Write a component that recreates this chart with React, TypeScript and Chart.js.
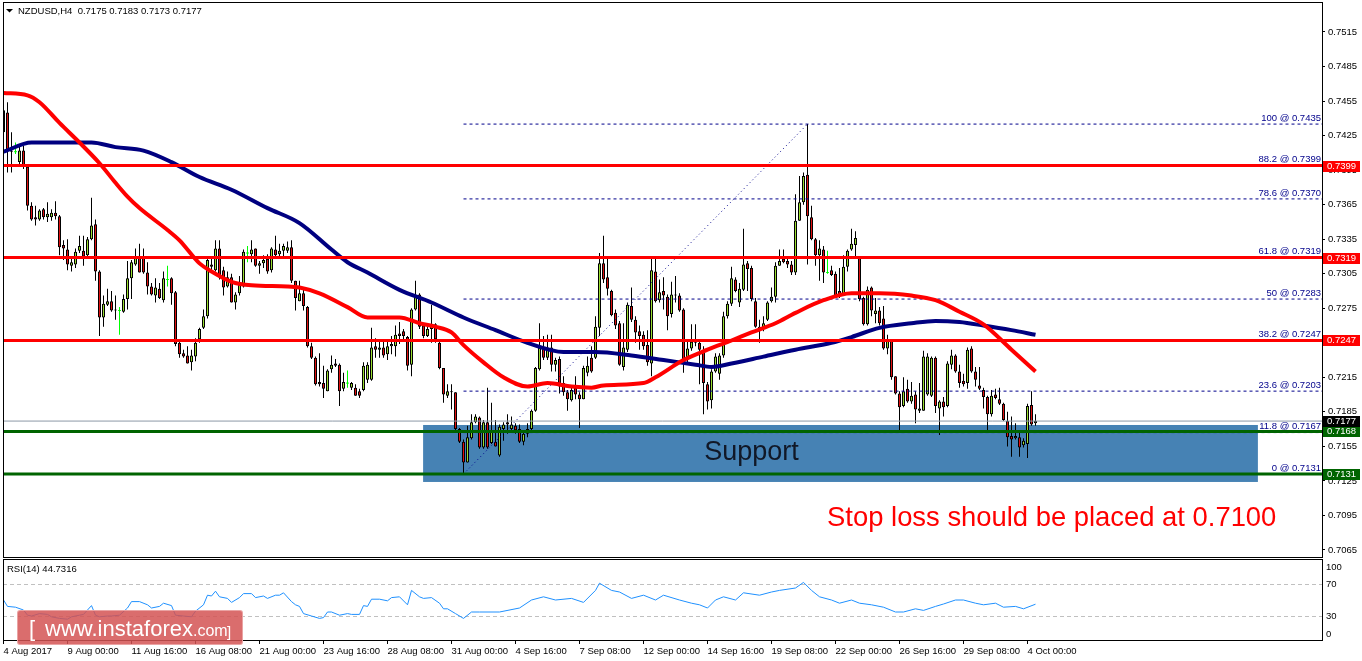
import React, { useEffect, useRef } from "react";
import { Chart, registerables } from "chart.js";

Chart.register(...registerables);

const FONT = "'Liberation Sans', Arial, sans-serif";

// ---- H4 candles, NZDUSD (index 0 = 4 Aug 2017) ----
const opens = [
  0.7428,0.7445,0.7412,0.7411,0.7402,0.7412,0.7398,0.7364,0.7354,0.7352,
  0.7361,0.7354,0.7354,0.7358,0.7355,0.7330,0.7326,0.7312,0.7313,0.7325,
  0.7325,0.7321,0.7335,0.7348,0.7307,0.7267,0.7278,0.7281,0.7273,0.7273,
  0.7272,0.7283,0.7301,0.7313,0.7319,0.7319,0.7306,0.7294,0.7286,0.7292,
  0.7282,0.7300,0.7301,0.7289,0.7245,0.7236,0.7234,0.7228,0.7233,0.7248,
  0.7258,0.7268,0.7313,0.7308,0.7327,0.7308,0.7294,0.7302,0.7280,0.7288,
  0.7294,0.7323,0.7322,0.7327,0.7312,0.7314,0.7318,0.7308,0.7326,0.7322,
  0.7325,0.7325,0.7328,0.7299,0.7281,0.7288,0.7276,0.7242,0.7232,0.7211,
  0.7210,0.7203,0.7222,0.7227,0.7226,0.7205,0.7210,0.7206,0.7206,0.7203,
  0.7204,0.7213,0.7213,0.7242,0.7239,0.7241,0.7235,0.7242,0.7242,0.7253,
  0.7255,0.7250,0.7226,0.7274,0.7287,0.7260,0.7251,0.7257,0.7261,0.7245,
  0.7223,0.7199,0.7203,0.7202,0.7170,0.7159,0.7141,0.7162,0.7176,0.7180,
  0.7154,0.7176,0.7158,0.7159,0.7147,0.7170,0.7176,0.7170,0.7173,0.7170,
  0.7159,0.7166,0.7170,0.7186,0.7222,0.7240,0.7232,0.7241,0.7226,0.7231,
  0.7210,0.7202,0.7195,0.7206,0.7200,0.7196,0.7219,0.7232,0.7232,0.7258,
  0.7314,0.7302,0.7290,0.7271,0.7262,0.7224,0.7239,0.7277,0.7265,0.7255,
  0.7252,0.7243,0.7227,0.7307,0.7282,0.7290,0.7285,0.7270,0.7287,0.7286,
  0.7274,0.7232,0.7240,0.7245,0.7245,0.7239,0.7209,0.7195,0.7220,0.7218,
  0.7234,0.7268,0.7279,0.7300,0.7280,0.7291,0.7314,0.7310,0.7281,0.7255,
  0.7258,0.7265,0.7281,0.7285,0.7312,0.7318,0.7316,0.7313,0.7306,0.7351,
  0.7367,0.7391,0.7354,0.7335,0.7321,0.7326,0.7306,0.7308,0.7305,0.7290,
  0.7286,0.7311,0.7326,0.7330,0.7320,0.7284,0.7261,0.7293,0.7270,0.7273,
  0.7266,0.7240,0.7247,0.7216,0.7201,0.7190,0.7205,0.7194,0.7200,0.7186,
  0.7186,0.7200,0.7199,0.7232,0.7188,0.7194,0.7190,0.7226,0.7234,0.7220,
  0.7212,0.7210,0.7240,0.7220,0.7208,0.7204,0.7198,0.7183,0.7200,0.7196,
  0.7192,0.7177,0.7164,0.7162,0.7163,0.7156,0.7157,0.7191,0.7175,
];
const highs = [
  0.7449,0.7454,0.7428,0.7419,0.7415,0.7416,0.7398,0.7367,0.7364,0.7361,
  0.7362,0.7367,0.7361,0.7368,0.7356,0.7334,0.7335,0.7319,0.7327,0.7338,
  0.7338,0.7337,0.7371,0.7352,0.7308,0.7286,0.7292,0.7290,0.7286,0.7276,
  0.7287,0.7316,0.7317,0.7327,0.7331,0.7327,0.7315,0.7297,0.7301,0.7297,
  0.7307,0.7312,0.7302,0.7290,0.7248,0.7239,0.7242,0.7239,0.7249,0.7258,
  0.7274,0.7319,0.7319,0.7334,0.7334,0.7311,0.7307,0.7305,0.7289,0.7303,
  0.7326,0.7329,0.7334,0.7327,0.7316,0.7321,0.7322,0.7328,0.7338,0.7331,
  0.7331,0.7333,0.7334,0.7299,0.7299,0.7291,0.7277,0.7245,0.7233,0.7236,
  0.7225,0.7222,0.7234,0.7231,0.7227,0.7219,0.7221,0.7211,0.7209,0.7205,
  0.7228,0.7228,0.7258,0.7249,0.7248,0.7246,0.7246,0.7251,0.7260,0.7263,
  0.7257,0.7251,0.7275,0.7299,0.7288,0.7262,0.7261,0.7278,0.7262,0.7246,
  0.7223,0.7209,0.7209,0.7202,0.7171,0.7161,0.7173,0.7183,0.7183,0.7181,
  0.7178,0.7206,0.7193,0.7178,0.7174,0.7176,0.7183,0.7181,0.7175,0.7174,
  0.7168,0.7175,0.7187,0.7224,0.7262,0.7251,0.7252,0.7252,0.7232,0.7233,
  0.7216,0.7204,0.7207,0.7216,0.7202,0.7225,0.7233,0.7242,0.7268,0.7323,
  0.7338,0.7318,0.7291,0.7274,0.7264,0.7262,0.7280,0.7293,0.7268,0.7260,
  0.7255,0.7256,0.7318,0.7318,0.7300,0.7302,0.7287,0.7298,0.7303,0.7288,
  0.7275,0.7247,0.7261,0.7261,0.7248,0.7242,0.7211,0.7222,0.7236,0.7236,
  0.7272,0.7281,0.7311,0.7302,0.7297,0.7344,0.7316,0.7312,0.7284,0.7265,
  0.7268,0.7281,0.7293,0.7315,0.7326,0.7326,0.7318,0.7316,0.7374,0.7390,
  0.7393,0.7435,0.7364,0.7336,0.7334,0.7329,0.7325,0.7312,0.7307,0.7310,
  0.7321,0.7326,0.7344,0.7342,0.7320,0.7285,0.7294,0.7294,0.7284,0.7276,
  0.7277,0.7252,0.7248,0.7216,0.7203,0.7215,0.7213,0.7211,0.7203,0.7210,
  0.7238,0.7236,0.7233,0.7233,0.7195,0.7198,0.7229,0.7239,0.7235,0.7226,
  0.7218,0.7241,0.7242,0.7224,0.7224,0.7206,0.7199,0.7204,0.7205,0.7206,
  0.7193,0.7185,0.7181,0.7175,0.7168,0.7162,0.7192,0.7203,0.7183,
];
const lows = [
  0.7420,0.7393,0.7393,0.7409,0.7400,0.7396,0.7360,0.7351,0.7347,0.7351,
  0.7352,0.7350,0.7351,0.7352,0.7321,0.7317,0.7308,0.7307,0.7310,0.7323,
  0.7312,0.7319,0.7334,0.7299,0.7251,0.7259,0.7277,0.7272,0.7265,0.7252,
  0.7271,0.7274,0.7283,0.7312,0.7306,0.7305,0.7287,0.7286,0.7280,0.7283,
  0.7280,0.7294,0.7278,0.7242,0.7232,0.7232,0.7227,0.7221,0.7229,0.7245,
  0.7257,0.7266,0.7307,0.7307,0.7300,0.7286,0.7293,0.7280,0.7274,0.7286,
  0.7293,0.7315,0.7315,0.7311,0.7305,0.7310,0.7305,0.7306,0.7318,0.7319,
  0.7318,0.7323,0.7297,0.7273,0.7281,0.7273,0.7241,0.7231,0.7208,0.7207,
  0.7197,0.7203,0.7219,0.7224,0.7190,0.7203,0.7206,0.7204,0.7199,0.7197,
  0.7203,0.7210,0.7212,0.7232,0.7232,0.7232,0.7230,0.7235,0.7233,0.7244,
  0.7248,0.7221,0.7216,0.7273,0.7257,0.7249,0.7250,0.7245,0.7245,0.7222,
  0.7193,0.7197,0.7187,0.7168,0.7158,0.7131,0.7141,0.7161,0.7175,0.7153,
  0.7153,0.7153,0.7157,0.7155,0.7146,0.7160,0.7166,0.7168,0.7166,0.7158,
  0.7156,0.7163,0.7168,0.7185,0.7221,0.7230,0.7230,0.7220,0.7220,0.7201,
  0.7199,0.7186,0.7194,0.7196,0.7171,0.7196,0.7216,0.7219,0.7231,0.7251,
  0.7297,0.7286,0.7268,0.7257,0.7225,0.7221,0.7237,0.7263,0.7245,0.7239,
  0.7239,0.7225,0.7216,0.7280,0.7280,0.7274,0.7256,0.7267,0.7280,0.7272,
  0.7219,0.7228,0.7238,0.7242,0.7209,0.7183,0.7187,0.7188,0.7219,0.7213,
  0.7232,0.7266,0.7277,0.7289,0.7276,0.7290,0.7290,0.7281,0.7258,0.7245,
  0.7255,0.7264,0.7280,0.7280,0.7312,0.7314,0.7310,0.7304,0.7304,0.7351,
  0.7365,0.7313,0.7334,0.7312,0.7299,0.7297,0.7305,0.7303,0.7284,0.7284,
  0.7286,0.7307,0.7325,0.7320,0.7281,0.7260,0.7260,0.7268,0.7262,0.7260,
  0.7239,0.7235,0.7213,0.7200,0.7168,0.7189,0.7193,0.7192,0.7175,0.7184,
  0.7186,0.7199,0.7198,0.7184,0.7165,0.7181,0.7189,0.7222,0.7219,0.7206,
  0.7207,0.7205,0.7219,0.7207,0.7204,0.7188,0.7168,0.7181,0.7196,0.7191,
  0.7177,0.7155,0.7146,0.7161,0.7146,0.7154,0.7145,0.7173,0.7173,
];
const closes = [
  0.7447,0.7412,0.7411,0.7411,0.7412,0.7398,0.7364,0.7352,0.7352,0.7360,
  0.7354,0.7357,0.7358,0.7355,0.7328,0.7327,0.7313,0.7315,0.7324,0.7329,
  0.7320,0.7335,0.7347,0.7307,0.7267,0.7279,0.7281,0.7273,0.7274,0.7273,
  0.7283,0.7301,0.7315,0.7320,0.7306,0.7306,0.7294,0.7287,0.7293,0.7284,
  0.7301,0.7300,0.7288,0.7244,0.7235,0.7233,0.7227,0.7234,0.7245,0.7257,
  0.7268,0.7317,0.7311,0.7327,0.7302,0.7293,0.7302,0.7280,0.7287,0.7296,
  0.7324,0.7323,0.7326,0.7312,0.7314,0.7317,0.7307,0.7327,0.7321,0.7325,
  0.7329,0.7328,0.7299,0.7284,0.7288,0.7277,0.7242,0.7232,0.7209,0.7209,
  0.7205,0.7221,0.7226,0.7225,0.7203,0.7211,0.7210,0.7210,0.7199,0.7199,
  0.7225,0.7226,0.7241,0.7239,0.7241,0.7234,0.7242,0.7244,0.7252,0.7251,
  0.7251,0.7225,0.7274,0.7286,0.7259,0.7251,0.7257,0.7260,0.7248,0.7223,
  0.7200,0.7203,0.7202,0.7170,0.7159,0.7141,0.7163,0.7176,0.7181,0.7154,
  0.7176,0.7154,0.7168,0.7155,0.7172,0.7174,0.7174,0.7174,0.7169,0.7159,
  0.7166,0.7170,0.7186,0.7223,0.7241,0.7232,0.7241,0.7226,0.7230,0.7207,
  0.7202,0.7196,0.7204,0.7200,0.7196,0.7223,0.7225,0.7220,0.7259,0.7314,
  0.7300,0.7292,0.7269,0.7260,0.7226,0.7241,0.7278,0.7265,0.7254,0.7251,
  0.7242,0.7228,0.7308,0.7281,0.7289,0.7286,0.7268,0.7287,0.7286,0.7273,
  0.7228,0.7240,0.7246,0.7248,0.7239,0.7210,0.7194,0.7220,0.7233,0.7234,
  0.7268,0.7279,0.7301,0.7290,0.7292,0.7313,0.7309,0.7283,0.7259,0.7259,
  0.7262,0.7280,0.7285,0.7312,0.7316,0.7315,0.7313,0.7306,0.7351,0.7367,
  0.7390,0.7355,0.7335,0.7321,0.7327,0.7306,0.7306,0.7304,0.7286,0.7286,
  0.7311,0.7325,0.7331,0.7336,0.7283,0.7261,0.7291,0.7273,0.7273,0.7262,
  0.7240,0.7248,0.7215,0.7201,0.7189,0.7203,0.7194,0.7199,0.7187,0.7188,
  0.7233,0.7233,0.7232,0.7190,0.7194,0.7189,0.7227,0.7234,0.7220,0.7210,
  0.7209,0.7239,0.7220,0.7213,0.7205,0.7198,0.7183,0.7199,0.7197,0.7192,
  0.7178,0.7163,0.7161,0.7164,0.7154,0.7160,0.7190,0.7174,0.7177,
];

// ---- moving averages (sampled along the curve) ----
const maRedIdx = [0,6,9,14,19,24,28,31,34,41,44,49,52,57,62,71,74,79,86,91,99,104,108,112,115,120,125,131,136,142,147,150,160,163,170,176,182,187,193,198,205,212,219,227,233,239,245,252,258];
const maRedVal = [0.7462,0.7460,0.7454,0.7436,0.7419,0.7401,0.7384,0.7372,0.7362,0.7343,0.7334,0.7314,0.7307,0.7298,0.7295,0.7294,0.7293,0.7288,0.7276,0.7267,0.7267,0.7262,0.7259,0.7254,0.7243,0.7228,0.7215,0.7207,0.7210,0.7207,0.7206,0.7208,0.7210,0.7215,0.7230,0.7239,0.7247,0.7254,0.7262,0.7271,0.7282,0.7288,0.7288,0.7286,0.7282,0.7272,0.7261,0.7239,0.7220];
const maBlueIdx = [0,7,16,22,28,35,42,49,57,66,74,82,86,91,99,107,115,123,131,140,148,157,165,173,177,182,190,198,207,212,219,227,233,239,245,252,258];
const maBlueVal = [0.7411,0.7419,0.7419,0.7419,0.7415,0.7412,0.7402,0.7389,0.7378,0.7362,0.7349,0.7326,0.7315,0.7306,0.7291,0.7280,0.7267,0.7256,0.7245,0.7237,0.7237,0.7234,0.7230,0.7226,0.7224,0.7227,0.7233,0.7239,0.7245,0.7250,0.7258,0.7262,0.7264,0.7263,0.7260,0.7256,0.7252];

// ---- RSI(14) ----
const rsiIdx = [0,1,3,5,6,7,9,11,12,14,16,17,19,20,22,23,24,26,27,29,31,32,34,36,37,39,40,42,43,45,47,48,50,51,52,53,54,56,57,59,60,62,63,65,66,68,69,70,72,73,74,75,77,79,80,81,82,84,86,87,89,90,91,92,94,96,97,99,101,102,104,105,107,109,110,111,113,115,117,119,124,129,132,135,138,142,145,148,149,152,154,157,160,163,165,169,172,174,176,178,180,183,185,189,192,194,198,200,202,204,207,209,212,214,217,220,223,225,228,230,233,235,238,240,243,245,248,250,253,255,258];
const rsiVal = [50,42,41,37.5,31,30,33,32,29,27,26,29,31,32,43,31,29,30,30,31,40,48,48,44,40,42,46,43,31,30,29,36,44,56,55,61,54,52,47,53,58,58,53,55,52,56,56,59,48,44,42,33,30,27,28,35,35,31,33,32,32,43,42,51,51,49,53,54,44,62,54,52,53,46,39,39,33,27,35,35,35,40,50,54,50,52,47,62,71,62,60,52,56,50,56,50,46,44,40,50,54,50,59,56,60,62,65,72,62,54,50,46,50,46,44,41,35,35,39,37,42,45,50,50,46,44,46,41,42,39,44.7316];
const rsiLevels = [70, 30];
const rsiAxisLabels = [100, 70, 30, 0];

// ---- axes ----
const priceTicks = [0.7065,0.7095,0.7125,0.7155,0.7185,0.7215,0.7245,0.7275,0.7305,0.7335,0.7365,0.7395,0.7425,0.7455,0.7485,0.7515];
const xTickIdx = [0,16,32,48,64,80,96,112,128,144,160,176,192,208,224,240,256];
const xTickLabels = ["4 Aug 2017","9 Aug 00:00","11 Aug 16:00","16 Aug 08:00","21 Aug 00:00","23 Aug 16:00","28 Aug 08:00","31 Aug 00:00","4 Sep 16:00","7 Sep 08:00","12 Sep 00:00","14 Sep 16:00","19 Sep 08:00","22 Sep 00:00","26 Sep 16:00","29 Sep 08:00","4 Oct 00:00"];
const X_MIN = -0.125;
const X_MAX = 329.625;
const Y_MIN = 0.705891;
const Y_MAX = 0.754019;

// ---- drawn objects ----
const resistanceLevels = [0.7399, 0.7319, 0.7247];
const supportLevels = [0.7168, 0.7131];
const bidPrice = 0.7177;
const fibPercents = ["100", "88.2", "78.6", "61.8", "50", "38.2", "23.6", "11.8", "0"];
const fibPrices = [0.7435, 0.7399, 0.7370, 0.7319, 0.7283, 0.7247, 0.7203, 0.7167, 0.7131];
const fibStartIdx = 115;
const fibHighIdx = 201;
const supportZone = [104.9, 313.6, 0.71241, 0.71736]; // idx from, idx to, low, high
const supportLabel = "Support";
const supportLabelAt = [187, 0.71495];
const stopLossLabel = "Stop loss should be placed at 0.7100";
const stopLossLabelAt = [205.9, 0.70928];
const markerPrices = [0.7399, 0.7319, 0.7247, 0.7131, 0.7168, 0.7177];
const markerColors = ["#ff0000", "#ff0000", "#ff0000", "#006400", "#006400", "#000000"];
const titleText = "NZDUSD,H4  0.7175 0.7183 0.7173 0.7177";
const rsiTitle = "RSI(14) 44.7316";

const UP = "#9ade30";
const DOWN = "#e01010";
const DOJI = "#00ff00";
const NAVY = "#000080";
const FIB = "#00008b";

const hLine = (v: number) => [{ x: X_MIN, y: v }, { x: X_MAX, y: v }];

const mainDecor = {
  id: "mainDecor",
  beforeDatasetsDraw(chart: any) {
    const { ctx, chartArea: a, scales } = chart;
    const x = scales.x, y = scales.y;
    ctx.save();
    ctx.beginPath();
    ctx.rect(a.left, a.top, a.right - a.left, a.bottom - a.top);
    ctx.clip();
    const x1 = x.getPixelForValue(supportZone[0]);
    const x2 = x.getPixelForValue(supportZone[1]);
    const y1 = y.getPixelForValue(supportZone[3]);
    const y2 = y.getPixelForValue(supportZone[2]);
    ctx.fillStyle = "#4682b4";
    ctx.fillRect(x1, y1, x2 - x1, y2 - y1);
    ctx.restore();
  },
  afterDatasetsDraw(chart: any) {
    const { ctx, chartArea: a, scales } = chart;
    const x = scales.x, y = scales.y;
    ctx.save();
    ctx.font = `9.5px ${FONT}`;
    ctx.fillStyle = FIB;
    ctx.textAlign = "right";
    ctx.textBaseline = "bottom";
    fibPrices.forEach((p, i) => {
      ctx.fillText(`${fibPercents[i]} @ ${p.toFixed(4)}`, a.right - 1, y.getPixelForValue(p) - 1);
    });
    ctx.font = `27px ${FONT}`;
    ctx.fillStyle = "#111827";
    ctx.textAlign = "center";
    ctx.textBaseline = "middle";
    ctx.fillText(supportLabel, x.getPixelForValue(supportLabelAt[0]), y.getPixelForValue(supportLabelAt[1]));
    ctx.font = `27.4px ${FONT}`;
    ctx.fillStyle = "#ff0000";
    ctx.textAlign = "left";
    ctx.fillText(stopLossLabel, x.getPixelForValue(stopLossLabelAt[0]), y.getPixelForValue(stopLossLabelAt[1]));
    ctx.restore();
  },
  afterDraw(chart: any) {
    const { ctx, chartArea: a, scales } = chart;
    const y = scales.y;
    ctx.save();
    ctx.strokeStyle = "#000";
    ctx.lineWidth = 1;
    ctx.strokeRect(a.left + 0.5, a.top - 0.5, a.right - a.left, a.bottom - a.top + 1);
    ctx.font = `9.5px ${FONT}`;
    ctx.textBaseline = "middle";
    ctx.textAlign = "left";
    markerPrices.forEach((p, i) => {
      const py = Math.round(y.getPixelForValue(p));
      ctx.fillStyle = markerColors[i];
      ctx.fillRect(a.right + 1, py - 5, 37, 11);
      ctx.fillStyle = "#fff";
      ctx.fillText(p.toFixed(4), a.right + 5, py + 0.5);
    });
    // title
    ctx.fillStyle = "#000";
    ctx.beginPath();
    ctx.moveTo(6, 9);
    ctx.lineTo(13, 9);
    ctx.lineTo(9.5, 12.5);
    ctx.closePath();
    ctx.fill();
    ctx.fillText(titleText, 18, 11);
    ctx.restore();
  },
};

const rsiDecor = {
  id: "rsiDecor",
  beforeDatasetsDraw(chart: any) {
    const { ctx, chartArea: a, scales } = chart;
    const y = scales.y;
    ctx.save();
    ctx.strokeStyle = "#c0c0c0";
    ctx.lineWidth = 1;
    ctx.setLineDash([4, 3]);
    rsiLevels.forEach((v) => {
      const py = Math.round(y.getPixelForValue(v)) + 0.5;
      ctx.beginPath();
      ctx.moveTo(a.left, py);
      ctx.lineTo(a.right, py);
      ctx.stroke();
    });
    ctx.restore();
  },
  afterDraw(chart: any) {
    const { ctx, chartArea: a, scales } = chart;
    const y = scales.y;
    ctx.save();
    ctx.strokeStyle = "#000";
    ctx.lineWidth = 1;
    ctx.strokeRect(a.left + 0.5, a.top - 0.5, a.right - a.left, a.bottom - a.top + 1);
    ctx.font = `9.5px ${FONT}`;
    ctx.fillStyle = "#000";
    ctx.textAlign = "left";
    ctx.textBaseline = "middle";
    rsiAxisLabels.forEach((v) => {
      const py = Math.min(Math.max(y.getPixelForValue(v), a.top + 7), a.bottom - 6);
      ctx.fillText(String(v), a.right + 4, py);
    });
    ctx.fillText(rsiTitle, a.left + 4, a.top + 9);
    ctx.restore();
  },
};

function buildMain(canvas: HTMLCanvasElement) {
  const isDoji = (i: number) => opens[i] === closes[i];
  const wickData = lows.map((l, i) => ({ x: i, y: [l, highs[i]] }));
  const bodyData = opens.map((o, i) => {
    const c = closes[i];
    if (o === c) return { x: i, y: [o - 0.00004, o + 0.00004] };
    return { x: i, y: [Math.min(o, c), Math.max(o, c)] };
  });
  const wickColors = opens.map((_, i) => (isDoji(i) ? DOJI : "#000"));
  const bodyColors = opens.map((o, i) => (isDoji(i) ? DOJI : closes[i] > o ? UP : DOWN));
  const bodyBorders = opens.map((_, i) => (isDoji(i) ? DOJI : "#000"));
  const bodyBorderW = opens.map((_, i) => (isDoji(i) ? 0 : 1));

  const lineBase = { type: "line", pointRadius: 0, fill: false, tension: 0 };

  const datasets: any[] = [
    { type: "bar", data: wickData, backgroundColor: wickColors, borderWidth: 0, barThickness: 1, maxBarThickness: 1, grouped: false, inflateAmount: 0, order: 10 },
    { type: "bar", data: bodyData, backgroundColor: bodyColors, borderColor: bodyBorders, borderWidth: bodyBorderW, borderSkipped: false, barThickness: 3, maxBarThickness: 3, grouped: false, inflateAmount: 0, order: 9 },
    ...fibPrices.map((p) => ({ ...lineBase, data: [{ x: fibStartIdx, y: p }, { x: X_MAX, y: p }], borderColor: FIB, borderWidth: 1, borderDash: [3, 3], order: 8 })),
    { ...lineBase, data: [{ x: fibStartIdx, y: fibPrices[fibPrices.length - 1] }, { x: fibHighIdx, y: fibPrices[0] }], borderColor: FIB, borderWidth: 1, borderDash: [1, 3], order: 8 },
    { ...lineBase, data: hLine(bidPrice), borderColor: "#8c99a6", borderWidth: 1, order: 7 },
    { ...lineBase, data: maBlueIdx.map((x, i) => ({ x, y: maBlueVal[i] })), borderColor: NAVY, borderWidth: 4, tension: 0.4, cubicInterpolationMode: "monotone", order: 6 },
    { ...lineBase, data: maRedIdx.map((x, i) => ({ x, y: maRedVal[i] })), borderColor: "#ff0000", borderWidth: 4, tension: 0.4, cubicInterpolationMode: "monotone", order: 5 },
    ...resistanceLevels.map((v) => ({ ...lineBase, data: hLine(v), borderColor: "#ff0000", borderWidth: 3, order: 3 })),
    ...supportLevels.map((v) => ({ ...lineBase, data: hLine(v), borderColor: "#006400", borderWidth: 3, order: 3 })),
  ];

  return new Chart(canvas, {
    type: "bar",
    data: { datasets },
    options: {
      responsive: false,
      animation: false,
      events: [],
      layout: { padding: { left: 3, top: 3, right: 0, bottom: 3 } },
      plugins: { legend: { display: false }, tooltip: { enabled: false } },
      scales: {
        x: { type: "linear", min: X_MIN, max: X_MAX, display: false, offset: false, grid: { display: false } },
        y: {
          type: "linear",
          position: "right",
          min: Y_MIN,
          max: Y_MAX,
          afterBuildTicks: (s: any) => { s.ticks = priceTicks.map((v) => ({ value: v })); },
          afterFit: (s: any) => { s.width = 40; s.paddingTop = 0; s.paddingBottom = 0; },
          ticks: { callback: (v: any) => Number(v).toFixed(4), font: { family: FONT, size: 9.5 }, color: "#000", padding: 3, autoSkip: false },
          grid: { drawOnChartArea: false, drawTicks: true, tickLength: 3, tickColor: "#000", color: "#000" },
          border: { display: false },
        },
      },
    } as any,
    plugins: [mainDecor],
  } as any);
}

function buildRsi(canvas: HTMLCanvasElement) {
  return new Chart(canvas, {
    type: "line",
    data: {
      datasets: [
        { data: rsiIdx.map((x, i) => ({ x, y: rsiVal[i] })), borderColor: "#1e90ff", borderWidth: 1, pointRadius: 0, tension: 0, fill: false },
      ],
    },
    options: {
      responsive: false,
      animation: false,
      events: [],
      layout: { padding: { left: 3, top: 2, right: 0, bottom: 0 } },
      plugins: { legend: { display: false }, tooltip: { enabled: false } },
      scales: {
        x: {
          type: "linear",
          min: X_MIN,
          max: X_MAX,
          offset: false,
          afterBuildTicks: (s: any) => { s.ticks = xTickIdx.map((v) => ({ value: v })); },
          afterFit: (s: any) => { s.height = 21; s.paddingLeft = 0; s.paddingRight = 0; },
          ticks: {
            autoSkip: false, maxRotation: 0, minRotation: 0, align: "start", padding: 2, color: "#000",
            font: { family: FONT, size: 9.5 },
            callback: (v: any) => { const k = xTickIdx.indexOf(Number(v)); return k >= 0 ? xTickLabels[k] : ""; },
          },
          grid: { drawOnChartArea: false, tickLength: 4, tickColor: "#000", color: "#000" },
          border: { display: false },
        },
        y: {
          type: "linear",
          position: "right",
          min: 0,
          max: 100,
          afterFit: (s: any) => { s.width = 40; s.paddingTop = 0; s.paddingBottom = 0; },
          ticks: { display: false },
          grid: { display: false },
          border: { display: false },
        },
      },
    } as any,
    plugins: [rsiDecor],
  } as any);
}

export default function App() {
  const mainRef = useRef<HTMLCanvasElement>(null);
  const rsiRef = useRef<HTMLCanvasElement>(null);
  useEffect(() => {
    const c1 = buildMain(mainRef.current!);
    const c2 = buildRsi(rsiRef.current!);
    return () => { c1.destroy(); c2.destroy(); };
  }, []);
  return (
    <div style={{ position: "fixed", left: 0, top: 0, width: 1362, height: 661, background: "#fff", overflow: "hidden" }}>
      <canvas ref={mainRef} width={1362} height={560} style={{ position: "absolute", left: 0, top: 0, width: 1362, height: 560 }} />
      <canvas ref={rsiRef} width={1362} height={103} style={{ position: "absolute", left: 0, top: 558, width: 1362, height: 103 }} />
      <div
        style={{
          position: "absolute", left: 17, top: 610, width: 226, height: 35, boxSizing: "border-box",
          background: "rgba(211,84,84,0.85)", border: "1px solid rgba(236,170,170,0.9)", borderRadius: 3,
          color: "#fff", fontFamily: FONT, whiteSpace: "nowrap",
        }}
      >
        <span style={{ position: "absolute", left: 11, top: 7, fontSize: 22, lineHeight: "22px" }}>[</span>
        <span style={{ position: "absolute", left: 27, top: 7, fontSize: 22, lineHeight: "22px" }}>www.instaforex</span>
        <span style={{ position: "absolute", left: 175, top: 12, fontSize: 16, lineHeight: "16px" }}>.com</span>
        <span style={{ position: "absolute", left: 209, top: 13, fontSize: 15, lineHeight: "15px" }}>]</span>
      </div>
    </div>
  );
}
